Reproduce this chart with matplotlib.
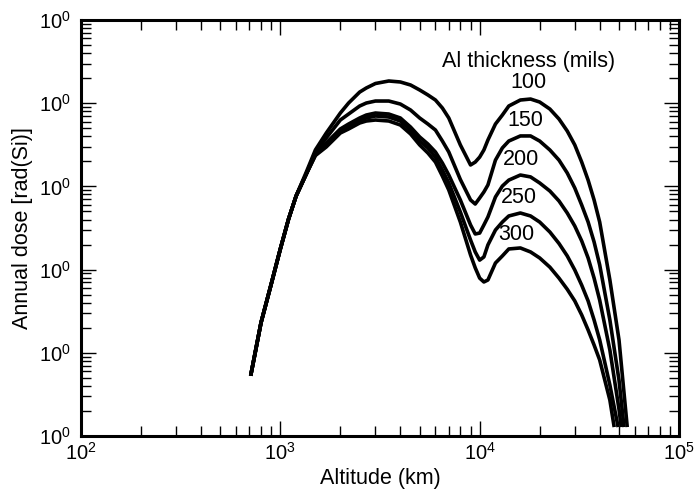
import matplotlib
matplotlib.use("Agg")
import matplotlib.pyplot as plt
from matplotlib.ticker import FixedLocator, FixedFormatter, LogLocator, NullFormatter

plt.rcParams['font.family'] = ['Liberation Sans', 'DejaVu Sans']
plt.rcParams['mathtext.fontset'] = 'custom'
plt.rcParams['mathtext.rm'] = 'Liberation Sans'
plt.rcParams['mathtext.it'] = 'Liberation Sans:italic'

# altitude grid (km) shared by all curves; each curve gets its own tail below
alt = [710, 800, 900, 1000, 1100, 1200, 1350, 1500, 1700, 2000, 2200, 2500,
       2700, 3000, 3500, 4000, 4500, 5000, 5500, 6000, 6500, 7000, 8000,
       9000, 9500, 10000, 10500, 11000, 12000, 13000, 14000, 16000, 18000,
       20000, 22500, 25000, 27500, 30000, 32500, 35000, 37500, 40000, 45000]

thickness = ["100", "150", "200", "250", "300"]

dose_100 = [5.3, 23, 67, 177, 406, 767, 1490, 2750, 4380, 7620, 10050, 13600,
            15240, 17250, 18490, 17990, 16550, 14420, 12560, 10920, 8750, 6640, 3150,
            1810, 1960, 2250, 2740, 3610, 5620, 7210, 9250, 10920, 11220,
            10330, 8510, 6460, 4630, 3150, 1960, 1190, 687, 373, 75]
dose_150 = [5.3, 23, 67, 177, 406, 767, 1410, 2600, 3820, 6280, 7410, 9250,
            10050, 10620, 10620, 9770, 8280, 6640, 5620, 4760, 3510, 2590, 1210,
            687, 614, 726, 857, 1040, 2070, 2900, 3510, 4040, 4040,
            3510, 2740, 2070, 1450, 957, 597, 373, 215, 114, 24.8]
dose_200 = [5.3, 23, 67, 177, 406, 767, 1410, 2450, 3330, 4900, 5620, 6640,
            7210, 7620, 7410, 6640, 5170, 3930, 3230, 2590, 1910, 1370, 687,
            344, 268, 275, 344, 429, 746, 1010, 1190, 1370, 1300,
            1100, 880, 668, 479, 334, 221, 138, 79, 43, 10.8]
dose_250 = [5.3, 23, 67, 177, 406, 767, 1410, 2400, 3150, 4630, 5320, 6280,
            6640, 7020, 6820, 6110, 4760, 3510, 2900, 2250, 1570, 1100, 492,
            227, 163, 130, 142, 198, 299, 373, 441, 479, 441,
            373, 283, 206, 146, 99, 65, 42, 24.8, 14.3, 4.1]
dose_300 = [5.3, 23, 67, 177, 406, 767, 1410, 2350, 2980, 4380, 4900, 5780,
            6110, 6280, 6110, 5470, 4270, 3150, 2520, 1960, 1330, 905, 373,
            150, 105, 79, 71, 75, 120, 146, 177, 182, 163,
            138, 107, 79, 58, 42, 28.5, 18.8, 12.4, 8.2, 2.7]

tail_alt_100 = [50000, 55000]
tail_dose_100 = [14.3, 1.28]
tail_alt_150 = [50000, 53000]
tail_dose_150 = [4.7, 1.28]
tail_alt_200 = [50000, 51300]
tail_dose_200 = [2.1, 1.28]
tail_alt_250 = [49500]
tail_dose_250 = [1.28]
tail_alt_300 = [47300]
tail_dose_300 = [1.28]

# where the thickness numbers sit
label_alt = [17600, 16900, 16160, 15650, 15310]
label_dose = [17500, 6280, 2130, 726, 261]
title_alt, title_dose = 17600, 32100

y_ticks = [1, 10, 100, 1000, 10000, 100000]
y_ticklabels = [r'$\mathregular{10^0}$'] * 6
x_ticks = [100, 1000, 10000, 100000]
x_ticklabels = [r'$\mathregular{10^2}$', r'$\mathregular{10^3}$',
                r'$\mathregular{10^4}$', r'$\mathregular{10^5}$']

fig = plt.figure(figsize=(6.95, 4.94), dpi=100)
ax = fig.add_axes([81 / 695, 1 - 436 / 494, 598 / 695, 416 / 494])

series = [
    (dose_100, tail_alt_100, tail_dose_100),
    (dose_150, tail_alt_150, tail_dose_150),
    (dose_200, tail_alt_200, tail_dose_200),
    (dose_250, tail_alt_250, tail_dose_250),
    (dose_300, tail_alt_300, tail_dose_300),
]
for dose, t_alt, t_dose in series:
    ax.plot(alt + t_alt, dose + t_dose, color='black', lw=2.6,
            solid_capstyle='butt', solid_joinstyle='round')

ax.set_xscale('log')
ax.set_yscale('log')
ax.set_xlim(100, 100000)
ax.set_ylim(1, 100000)

ax.xaxis.set_major_locator(FixedLocator(x_ticks))
ax.xaxis.set_major_formatter(FixedFormatter(x_ticklabels))
ax.yaxis.set_major_locator(FixedLocator(y_ticks))
ax.yaxis.set_major_formatter(FixedFormatter(y_ticklabels))
ax.xaxis.set_minor_locator(LogLocator(base=10, subs=range(2, 10)))
ax.yaxis.set_minor_locator(LogLocator(base=10, subs=range(2, 10)))
ax.xaxis.set_minor_formatter(NullFormatter())
ax.yaxis.set_minor_formatter(NullFormatter())

ax.tick_params(which='both', direction='in', top=True, right=True,
               labelsize=14.5, width=1.0, color='black')
ax.tick_params(axis='x', which='major', length=11, pad=4)
ax.tick_params(axis='y', which='major', length=11, pad=7)
ax.tick_params(which='minor', length=7.5)
for s in ax.spines.values():
    s.set_linewidth(2.2)

ax.set_xlabel('Altitude (km)', fontsize=15.5, labelpad=3)
ax.set_ylabel('Annual dose [rad(Si)]', fontsize=15.5, labelpad=5)

ax.text(title_alt, title_dose, 'Al thickness (mils)', fontsize=15.5,
        ha='center', va='center')
for lab, lx, ly in zip(thickness, label_alt, label_dose):
    ax.text(lx, ly, lab, fontsize=15.5, ha='center', va='center')

fig.savefig('out.png', dpi=100)
